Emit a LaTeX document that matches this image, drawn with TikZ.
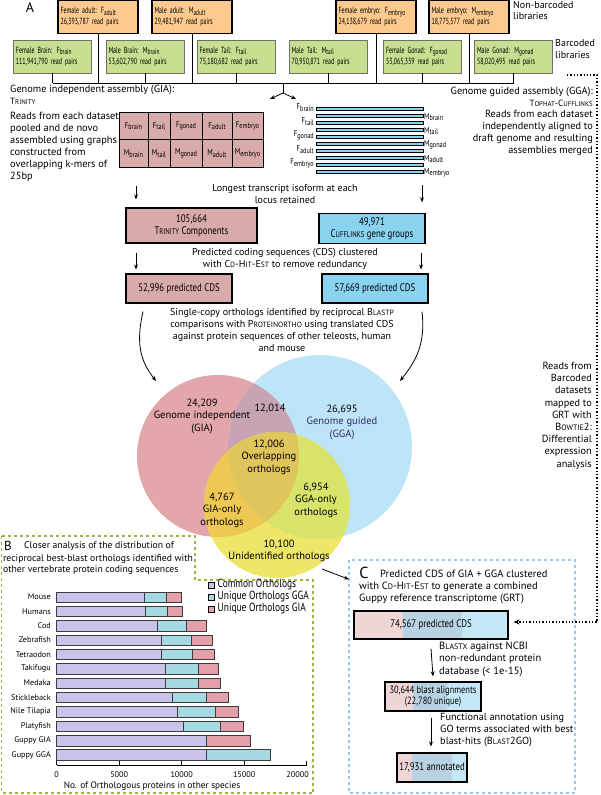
\documentclass[tikz,border=0pt]{standalone}
\usepackage{fontspec}
\setmainfont{PT Sans}
\newfontfamily\narrowfont[FakeStretch=0.8]{PT Sans}
\newfontfamily\condfont[FakeStretch=0.67]{PT Sans}
\usepackage{graphicx}
\usetikzlibrary{arrows.meta}

\definecolor{nbfill}{RGB}{252,201,142}
\definecolor{bcfill}{RGB}{200,222,145}
\definecolor{bcline}{RGB}{110,115,100}
\definecolor{giafill}{RGB}{217,170,170}
\definecolor{ggafill}{RGB}{137,210,240}
\definecolor{vgia}{RGB}{227,166,170}
\definecolor{vgga}{RGB}{190,229,247}
\definecolor{vboth}{RGB}{199,164,181}
\definecolor{vnew}{RGB}{238,230,104}
\definecolor{vnewgia}{RGB}{238,200,84}
\definecolor{vnewgga}{RGB}{216,227,106}
\definecolor{vall}{RGB}{224,196,92}
\definecolor{ggatext}{RGB}{50,40,100}
\definecolor{bframe}{RGB}{165,178,62}
\definecolor{cframe}{RGB}{150,200,235}
\definecolor{common}{RGB}{200,196,235}
\definecolor{uniqgga}{RGB}{165,218,228}
\definecolor{uniqgia}{RGB}{228,160,168}
\definecolor{cpink}{RGB}{238,214,214}
\definecolor{cmid}{RGB}{184,210,226}
\definecolor{cblue}{RGB}{196,232,248}

\newcommand{\lo}[1]{\raisebox{-0.35ex}{\scalebox{0.9}{#1}}}
\newcommand{\fsc}[2]{#1\scalebox{0.76}{#2}}
\newcommand{\libfont}{\condfont\fontsize{8.9}{11}\selectfont}
\newcommand{\boxfont}{\narrowfont\fontsize{11}{12.5}\selectfont}
\newcommand{\bodyfont}{\fontsize{10}{12}\selectfont}

\begin{document}
\begin{tikzpicture}[x=1pt,y=-1pt,
	nb/.style={draw, line width=1.3pt, fill=nbfill, minimum width=80, minimum height=33, text width=75, align=left, inner sep=2.5, font=\libfont},
	bc/.style={draw=bcline, line width=0.9pt, fill=bcfill, minimum width=78, minimum height=33, text width=73, align=left, inner sep=2.5, font=\libfont},
	giabox/.style={draw, line width=1.1pt, fill=giafill, align=center, font=\boxfont},
	ggabox/.style={draw, line width=1.1pt, fill=ggafill, align=center, font=\boxfont},
	cbox/.style={draw, line width=1.2pt, align=center, font=\boxfont},
	txt/.style={inner sep=0, font=\bodyfont},
	vlab/.style={inner sep=0, align=center, font=\fontsize{10.5}{12.5}\selectfont},
	cell/.style={inner sep=0, font=\narrowfont\fontsize{8.6}{10}\selectfont},
	splab/.style={inner sep=0, anchor=east, font=\fontsize{8.2}{9}\selectfont},
	leg/.style={inner sep=0, anchor=west, font=\narrowfont\fontsize{11.8}{12}\selectfont},
	panel/.style={inner sep=0, font=\fontsize{14}{14}\selectfont},
	arr/.style={line width=0.8pt, -{Stealth[length=5pt,width=4pt]}},
	bar/.style={draw={rgb,255:red,60;green,60;blue,60}, line width=0.6pt}]
\useasboundingbox (0,0) rectangle (600,795);

% panel A: libraries
\node[panel] (pa) at (30,8) {A};
\node[nb] (fadult) at (98,17) {Female adult: F\lo{adult}\\26,393,787 read pairs};
\node[nb] (madult) at (192,17) {Male adult: M\lo{adult}\\29,481,947 read pairs};
\node[nb] (fembryo) at (376,17) {Female embryo: F\lo{embryo}\\24,138,679 read pairs};
\node[nb] (membryo) at (469,17) {Male embryo: M\lo{embryo}\\18,775,577 read pairs};
\node[bc] (fbrain) at (52.5,56.5) {Female Brain: F\lo{brain}\\111,941,790 read pairs};
\node[bc] (mbrain) at (145,56.5) {Male Brain: M\lo{brain}\\53,602,790 read pairs};
\node[bc] (ftail) at (236,56.5) {Female Tail: F\lo{tail}\\75,180,682 read pairs};
\node[bc] (mtail) at (328,56.5) {Male Tail: M\lo{tail}\\70,950,871 read pairs};
\node[bc] (fgonad) at (422.5,56.5) {Female Gonad: F\lo{gonad}\\53,065,339 read pairs};
\node[bc] (mgonad) at (513.5,56.5) {Male Gonad: M\lo{gonad}\\58,020,495 read pairs};
\node[txt, anchor=north west, align=left, font=\fontsize{10}{11.5}\selectfont] (nblab) at (513,1) {Non-barcoded\\libraries};
\node[txt, anchor=north west, align=left, font=\fontsize{10}{12.5}\selectfont] (bclab) at (555,39) {Barcoded\\libraries};

\coordinate (bus) at (0,83);
\foreach \lib in {fadult,madult,fembryo,membryo,fbrain,mbrain,ftail,mtail,fgonad,mgonad}
	\draw[line width=0.9pt] (\lib.south) -- (\lib.south |- bus);
\draw[line width=0.9pt] (fbrain.south |- bus) -- (mgonad.south |- bus);
\coordinate (fork) at (283,93);
\coordinate (forkl) at (270,99);
\coordinate (forkr) at (296,99);
\draw[line width=0.9pt] (fork |- bus) -- (fork);
\draw[arr] (fork) -- (forkl);
\draw[arr] (fork) -- (forkr);

% GIA side
\node[txt, anchor=north west, align=left, font=\fontsize{10.3}{11.5}\selectfont] (giahead) at (10,85) {Genome independent assembly (GIA):\\{\small\fsc{T}{RINITY}}};
\node[txt, anchor=north west, align=left, font=\fontsize{10.4}{12}\selectfont] (giadesc) at (10,112) {Reads from each dataset\\pooled and de novo\\assembled using graphs\\constructed from\\overlapping k-mers of\\25bp};
\draw[fill=giafill, line width=0.8pt] (119,112) rectangle (263,167);
\foreach \gx in {148,170,202,232}
	\draw[line width=0.8pt] (\gx,112) -- (\gx,167);
\draw[line width=0.8pt] (119,139.5) -- (263,139.5);
\foreach \gx/\gl in {133.5/brain,159/tail,186/gonad,217/adult,247.5/embryo} {
	\node[cell] (gf\gl) at (\gx,126) {F\lo{\gl}};
	\node[cell] (gm\gl) at (\gx,153.5) {M\lo{\gl}};
}

% GGA side
\node[txt, anchor=north east, align=right, font=\fontsize{10.3}{11.5}\selectfont] (ggahead) at (593,87) {Genome guided assembly (GGA):\\{\small\fsc{T}{OPHAT}-\fsc{C}{UFFLINKS}}};
\node[txt, anchor=north east, align=right, font=\fontsize{10.3}{12}\selectfont] (ggadesc) at (593,110) {Reads from each dataset\\independently aligned to\\draft genome and resulting\\assemblies merged};
\foreach \k/\gl in {0/brain,1/tail,2/gonad,3/adult,4/embryo} {
	\draw[fill=ggafill, line width=0.7pt] (316,{107+14*\k}) rectangle (423,{110.6+14*\k});
	\draw[fill=ggafill, line width=0.7pt] (316,{114+14*\k}) rectangle (423,{117.6+14*\k});
	\node[cell, anchor=east] (bf\gl) at (314,{107.5+14*\k}) {F\lo{\gl}};
	\node[cell, anchor=west] (bm\gl) at (424,{117+14*\k}) {M\lo{\gl}};
}

% components and CDS
\node[txt, align=center] (longest) at (285,194) {Longest transcript isoform at each\\locus retained};
\node[giabox, minimum width=131, minimum height=35] (trinity) at (191.5,225.5) {105,664\\\fsc{T}{RINITY} Components};
\node[ggabox, minimum width=106, minimum height=29] (cuff) at (372,228.5) {49,971\\\fsc{C}{UFFLINKS} gene groups};
\draw[arr] ([xshift=-55.5pt,yshift=21pt]trinity.north) -- ([xshift=-55.5pt,yshift=8pt]trinity.north);
\draw[arr] ([xshift=50pt,yshift=28pt]cuff.north) -- ([xshift=50pt,yshift=11pt]cuff.north);
\node[txt, align=center] (clustered) at (285,259) {Predicted coding sequences (CDS) clustered\\with \fsc{C}{D}-\fsc{H}{IT}-\fsc{E}{ST} to remove redundancy};
\node[giabox, minimum width=106, minimum height=29] (giacds) at (179,288.5) {52,996 predicted CDS};
\node[ggabox, minimum width=106, minimum height=29] (ggacds) at (375,288.5) {57,669 predicted CDS};
\draw[arr] ([xshift=-55.5pt,yshift=-9pt]trinity.south) -- ([xshift=-43pt,yshift=4pt]giacds.north);
\draw[arr] ([xshift=49pt,yshift=-9pt]cuff.south) -- ([xshift=46pt,yshift=4pt]ggacds.north);
\node[txt, align=center] (orthotxt) at (282,330) {Single-copy orthologs identified by reciprocal \fsc{B}{LASTP}\\comparisons with \fsc{P}{ROTEINORTHO} using translated CDS\\against protein sequences of other teleosts, human\\and mouse};

% Venn diagram
\fill[vgia] (218,456) circle[radius=81pt];
\fill[vgga] (320,447) circle[radius=92pt];
\begin{scope}
	\clip (218,456) circle[radius=81pt];
	\fill[vboth] (320,447) circle[radius=92pt];
\end{scope}
\fill[vnew] (277,505) circle[radius=73pt];
\begin{scope}
	\clip (277,505) circle[radius=73pt];
	\fill[vnewgia] (218,456) circle[radius=81pt];
	\fill[vnewgga] (320,447) circle[radius=92pt];
	\clip (218,456) circle[radius=81pt];
	\fill[vall] (320,447) circle[radius=92pt];
\end{scope}
\coordinate (giaend) at (156,381);
\coordinate (ggaend) at (400,381);
\draw[arr] ([xshift=-36pt,yshift=-8pt]giacds.south) .. controls +(-8,35) and +(-14,-18) .. (giaend);
\draw[arr] ([xshift=47pt,yshift=-8pt]ggacds.south) .. controls +(4,35) and +(14,-18) .. (ggaend);
\node[vlab] (v1) at (202,416) {24,209\\Genome independent\\(GIA)};
\node[vlab] (v2) at (270,409) {12,014};
\node[vlab, text=ggatext] (v3) at (342,422) {\textcolor{black}{26,695}\\Genome guided\\(GGA)};
\node[vlab] (v4) at (269,457) {12,006\\Overlapping\\orthologs};
\node[vlab] (v5) at (316,500) {6,954\\GGA-only\\orthologs};
\node[vlab] (v6) at (222,510) {4,767\\GIA-only\\orthologs};
\node[vlab] (v7) at (279,551) {10,100\\Unidentified orthologs};
\node[txt, anchor=north east, align=right, font=\fontsize{10.3}{12.2}\selectfont] (bowtie) at (592,362) {Reads from\\Barcoded\\datasets\\mapped to\\GRT with\\\fsc{B}{OWTIE}2:\\Differential\\expression\\analysis};

% panel B
\draw[bframe, dashed, line width=1.2pt] (1.5,536) -- (195,536) -- (195,580) -- (313,580) -- (313,793) -- (1.5,793) -- cycle;
\node[panel, font=\fontsize{13}{13}\selectfont] (pb) at (8,546) {B};
\node[txt, anchor=west, font=\fontsize{9.7}{11.5}\selectfont] (btitle) at (24,546.5) {Closer analysis of the distribution of};
\node[txt, anchor=north west, align=left, font=\fontsize{9.7}{11.5}\selectfont] (btitle2) at (3,554) {reciprocal best-blast orthologs identified with\\other vertebrate protein coding sequences};
\draw[fill=common, line width=0.6pt] (208,582) rectangle (214,588);
\draw[fill=uniqgga, line width=0.6pt] (208,594) rectangle (214,600);
\draw[fill=uniqgia, line width=0.6pt] (208,606) rectangle (214,612);
\node[leg] (leg1) at (217.5,585) {Common Orthologs};
\node[leg] (leg2) at (217.5,597) {Unique Orthologs GGA};
\node[leg] (leg3) at (217.5,609) {Unique Orthologs GIA};
% bar values in thousands
\foreach \sp/\c/\g/\i [count=\n from 0] in {Mouse/7.01/8.75/10.0, Humans/7.07/8.85/10.05, Cod/8.08/10.4/11.95, Zebrafish/8.4/10.8/12.48, Tetraodon/8.4/10.88/12.59, Takifugu/8.72/11.3/12.93, Medaka/8.72/11.36/13.07, Stickleback/9.23/12.0/13.76, Nile Tilapia/9.68/12.69/14.53, Platyfish/10.13/13.07/14.93, Guppy GIA/12.0/12.0/15.47, Guppy GGA/12.0/17.07/17.07} {
	\pgfmathsetmacro{\yy}{597+14.36*\n}
	\draw[bar, fill=common] (56.7,{\yy-5.2}) rectangle ({56.7+\c*12.5},{\yy+5.2});
	\draw[bar, fill=uniqgga] ({56.7+\c*12.5},{\yy-5.2}) rectangle ({56.7+\g*12.5},{\yy+5.2});
	\draw[bar, fill=uniqgia] ({56.7+\g*12.5},{\yy-5.2}) rectangle ({56.7+\i*12.5},{\yy+5.2});
	\node[splab] (sp\n) at (51,\yy) {\sp};
}
\draw[line width=0.8pt] (56.7,765) -- (306.7,765);
\foreach \t in {0,5,10,15,20}
	\draw[line width=0.8pt] ({56.7+\t*12.5},765) -- ({56.7+\t*12.5},761);
\foreach \t/\tl in {0/0,5/5000,10/10000,15/15000} 
	\node[inner sep=0, font=\fontsize{8.2}{9}\selectfont] (tk\t) at ({56.7+\t*12.5},775) {\tl};
\node[inner sep=0, anchor=east, font=\fontsize{8.2}{9}\selectfont] (tk20) at (309,775) {20000};
\node[inner sep=0, font=\fontsize{9.3}{9.5}\selectfont] (xlab) at (152,786) {No. of Orthologous proteins in other species};

% panel C
\draw[cframe, dashed, line width=1.2pt] (349,560) rectangle (575,793);
\node[panel, font=\fontsize{16}{16}\selectfont] (pc) at (364,573) {C};
\node[txt, anchor=west, font=\fontsize{10.5}{12}\selectfont] (ctitle) at (380,574) {Predicted CDS of GIA + GGA clustered};
\node[txt, anchor=north west, align=left, font=\fontsize{10.5}{12}\selectfont] (ctitle2) at (359,582) {with \fsc{C}{D}-\fsc{H}{IT}-\fsc{E}{ST} to generate a combined\\Guppy reference transcriptome (GRT)};
\coordinate (vennout) at (322,569);
\draw[arr] (vennout) -- (349,579.3);
\fill[cpink] (354,611) rectangle (403,639);
\fill[cmid] (403,611) rectangle (462,639);
\fill[cblue] (462,611) rectangle (508,639);
\node[cbox, minimum width=154, minimum height=28] (cds74) at (431,625) {74,567 predicted CDS};
\fill[cpink] (385,682) rectangle (413,711);
\fill[cmid] (413,682) rectangle (447,711);
\fill[cblue] (447,682) rectangle (481,711);
\node[cbox, minimum width=96, minimum height=29, inner sep=1, font=\narrowfont\fontsize{10.5}{11.5}\selectfont] (blast30) at (433,696.5) {30,644 blast alignments\\(22,780 unique)};
\fill[cpink] (397,753) rectangle (412,782);
\fill[cmid] (412,753) rectangle (452,782);
\fill[cblue] (452,753) rectangle (467,782);
\node[cbox, minimum width=70, minimum height=29, inner sep=1] (annot) at (432,767.5) {17,931 annotated};
\draw[arr] ([yshift=-9pt]cds74.south) -- ([yshift=5pt]blast30.north);
\draw[arr] ([xshift=-2pt,yshift=-6pt]blast30.south) -- ([xshift=-1pt,yshift=6pt]annot.north);
\node[txt, anchor=north west, align=left, font=\fontsize{10.5}{12.3}\selectfont] (blastx) at (439,642) {\fsc{B}{LASTX} against NCBI\\non-redundant protein\\database (< 1e-15)};
\node[txt, anchor=north west, align=left, font=\fontsize{10.3}{12}\selectfont] (funcann) at (440,713) {Functional annotation using\\GO terms associated with best\\blast-hits (\fsc{B}{LAST}2GO)};
\coordinate (dotstart) at (567,75);
\draw[dotted, line width=1.3pt, -{Stealth[length=6pt,width=5pt]}] (dotstart) -- (597,75) -- (597,622) -- ([xshift=5pt,yshift=3pt]cds74.east);
\end{tikzpicture}
\end{document}
